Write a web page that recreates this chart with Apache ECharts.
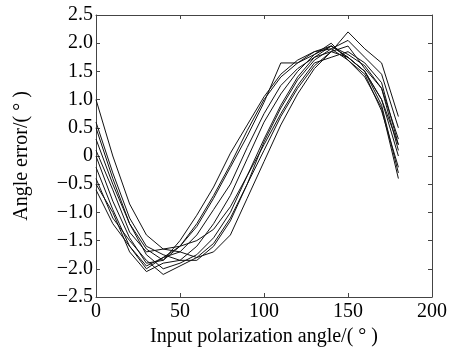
<!DOCTYPE html>
<html>
<head>
<meta charset="utf-8">
<script src="https://cdn.jsdelivr.net/npm/echarts@6/dist/echarts.min.js"></script>
<style>
html,body{margin:0;padding:0;background:#fff;}
#chart{width:454px;height:352px;}
</style>
</head>
<body>
<div id="chart"></div>
<script>
const angles = [0,10,20,30,40,50,60,70,80,90,100,110,120,130,140,150,160,170,180];
const run1  = [0.5,-0.4,-1.2,-1.65,-1.85,-1.6,-1.25,-0.75,-0.2,0.35,0.95,1.65,1.65,1.85,1.95,1.75,1.5,0.9,-0.3];
const run2  = [0.0,-0.8,-1.45,-1.9,-1.85,-1.5,-1.05,-0.55,0.05,0.55,1.05,1.45,1.7,1.85,1.9,1.7,1.45,0.8,-0.2];
const run3  = [-0.2,-0.95,-1.6,-2.0,-1.8,-1.6,-1.2,-0.7,-0.15,0.45,1.0,1.4,1.65,1.8,1.95,1.75,1.5,1.0,0.2];
const run4  = [1.0,0.0,-0.85,-1.4,-1.65,-1.7,-1.8,-1.7,-1.4,-0.75,-0.1,0.55,1.1,1.55,1.85,2.2,1.9,1.65,0.7];
const run5  = [0.6,-0.3,-1.1,-1.6,-1.75,-1.85,-1.85,-1.6,-1.15,-0.5,0.25,0.85,1.35,1.7,1.9,2.05,1.75,1.45,0.5];
const run6  = [0.3,-0.5,-1.2,-1.75,-2.0,-1.9,-1.75,-1.45,-1.0,-0.35,0.3,0.9,1.4,1.75,1.95,1.8,1.6,1.2,0.3];
const run7  = [-0.4,-1.1,-1.5,-1.85,-2.1,-1.95,-1.8,-1.55,-1.1,-0.5,0.1,0.7,1.2,1.6,1.85,1.95,1.55,1.2,0.1];
const run8  = [-0.5,-1.0,-1.7,-2.05,-1.9,-1.85,-1.6,-1.2,-0.7,-0.05,0.6,1.1,1.5,1.8,2.0,1.7,1.4,0.85,-0.4];
const run9  = [0.1,-0.6,-1.35,-1.7,-1.65,-1.6,-1.5,-1.3,-0.9,-0.35,0.2,0.75,1.25,1.65,1.75,1.85,1.65,1.3,0.2];
const run10 = [-0.6,-1.2,-1.6,-1.95,-1.8,-1.7,-1.4,-0.95,-0.5,0.15,0.75,1.25,1.55,1.75,1.85,1.75,1.5,1.0,0.0];
const runs = [run1,run2,run3,run4,run5,run6,run7,run8,run9,run10];
const xTitle = 'Input polarization angle/( \u00b0 )';
const yTitle = 'Angle error/( \u00b0 )';

const font = 'Liberation Serif';
const axisColor = '#444';
function fmtY(v){ if (Math.abs(v) < 1e-9) return '0'; const s = Math.abs(v).toFixed(1); return v < 0 ? '\u2212' + s : s; }

const chart = echarts.init(document.getElementById('chart'), null, {renderer:'canvas'});
const common = {
  axisLine:{show:true, onZero:false, lineStyle:{color:axisColor, width:1}},
  axisTick:{show:true, inside:true, length:4, lineStyle:{color:axisColor}},
  splitLine:{show:false}
};
chart.setOption({
  backgroundColor:'#fff',
  animation:false,
  grid:{left:96, right:22, top:15, bottom:55, containLabel:false},
  xAxis:[
    Object.assign({type:'value', min:0, max:200, interval:50, position:'bottom',
      name:xTitle, nameLocation:'middle', nameGap:30,
      nameTextStyle:{fontFamily:font, fontSize:20, color:'#000'},
      axisLabel:{fontFamily:font, fontSize:20, color:'#000', margin:5}}, common),
    Object.assign({type:'value', min:0, max:200, interval:50, position:'top',
      axisLabel:{show:false}}, common)
  ],
  yAxis:[
    Object.assign({type:'value', min:-2.5, max:2.5, interval:0.5, position:'left',
      name:yTitle, nameLocation:'middle', nameGap:64, nameRotate:90,
      nameTextStyle:{fontFamily:font, fontSize:20, color:'#000'},
      axisLabel:{fontFamily:font, fontSize:20, color:'#000', margin:3, formatter:fmtY}}, common),
    Object.assign({type:'value', min:-2.5, max:2.5, interval:0.5, position:'right',
      axisLabel:{show:false}}, common)
  ],
  series: runs.map(r => ({
    type:'line', xAxisIndex:0, yAxisIndex:0,
    data: angles.map((a,i) => [a, r[i]]),
    symbol:'none', smooth:false,
    lineStyle:{color:'#111', width:1}
  }))
});
</script>
</body>
</html>
